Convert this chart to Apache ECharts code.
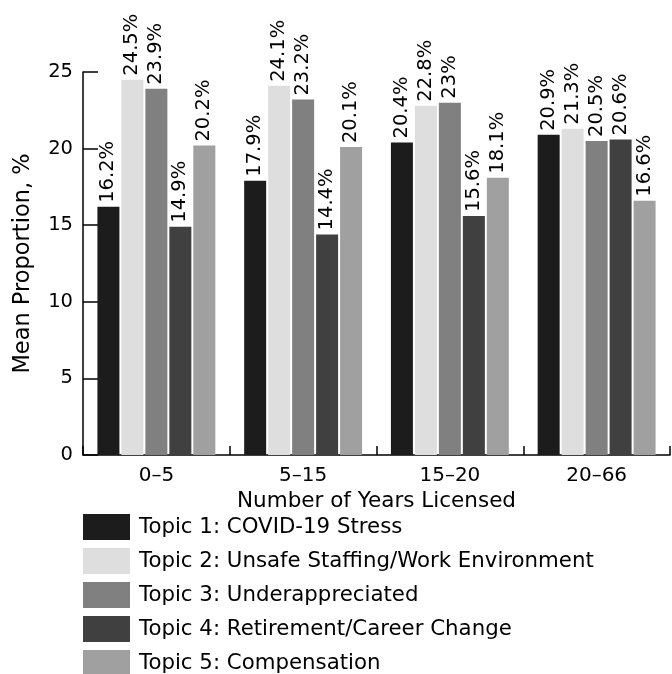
<!DOCTYPE html>
<html>
<head>
<meta charset="utf-8">
<script src="https://cdn.jsdelivr.net/npm/echarts@6/dist/echarts.min.js"></script>
<style>
html,body{margin:0;padding:0;background:#fff;}
#chart{width:672px;height:674px;}
</style>
</head>
<body>
<div id="chart"></div>
<script>
const categories = ['0–5', '5–15', '15–20', '20–66'];
const topic1 = [16.2, 17.9, 20.4, 20.9];
const topic2 = [24.5, 24.1, 22.8, 21.3];
const topic3 = [23.9, 23.2, 23, 20.5];
const topic4 = [14.9, 14.4, 15.6, 20.6];
const topic5 = [20.2, 20.1, 18.1, 16.6];
const seriesNames = [
  'Topic 1: COVID-19 Stress',
  'Topic 2: Unsafe Staffing/Work Environment',
  'Topic 3: Underappreciated',
  'Topic 4: Retirement/Career Change',
  'Topic 5: Compensation'
];
const colors = ['#1c1c1c', '#dedede', '#808080', '#404040', '#a0a0a0'];
const values = [topic1, topic2, topic3, topic4, topic5];

const FONT = 'DejaVu Sans';
const chart = echarts.init(document.getElementById('chart'), null, {renderer: 'canvas'});
chart.setOption({
  animation: false,
  textStyle: {fontFamily: FONT, color: '#000'},
  grid: {left: 83, right: 2, top: 72, bottom: 219, containLabel: false},
  legend: {
    orient: 'vertical', left: 83, top: 514, height: 170, padding: 0,
    itemWidth: 47, itemHeight: 26, itemGap: 8,
    icon: 'rect',
    textStyle: {fontFamily: FONT, fontSize: 21.3, color: '#000', padding: [0, 0, 0, 4]},
    data: seriesNames
  },
  xAxis: {
    type: 'category', data: categories,
    name: 'Number of Years Licensed', nameLocation: 'middle', nameGap: 31,
    nameTextStyle: {fontFamily: FONT, fontSize: 21.5, color: '#000'},
    axisLine: {show: true, lineStyle: {color: '#000', width: 1.5}},
    axisTick: {show: true, inside: true, length: 9, lineStyle: {color: '#000', width: 1.5}},
    axisLabel: {fontFamily: FONT, fontSize: 20, color: '#000', margin: 11},
    splitLine: {show: false}
  },
  yAxis: {
    type: 'value', min: 0, max: 25, interval: 5,
    name: 'Mean Proportion, %', nameLocation: 'middle', nameGap: 48,
    nameTextStyle: {fontFamily: FONT, fontSize: 22.5, color: '#000'},
    axisLine: {show: true, lineStyle: {color: '#000', width: 1.5}},
    axisTick: {show: true, inside: true, length: 15, lineStyle: {color: '#000', width: 1.5}},
    axisLabel: {fontFamily: FONT, fontSize: 19.5, color: '#000', margin: 10},
    splitLine: {show: false}
  },
  series: values.map((v, i) => ({
    name: seriesNames[i], type: 'bar', data: v,
    barWidth: 22, barGap: '9%',
    itemStyle: {color: colors[i]},
    label: {
      show: true, position: 'top', rotate: 90, align: 'left', verticalAlign: 'middle',
      distance: 4, formatter: '{c}%', fontFamily: FONT, fontSize: 19.5, color: '#000'
    }
  }))
});
</script>
</body>
</html>
